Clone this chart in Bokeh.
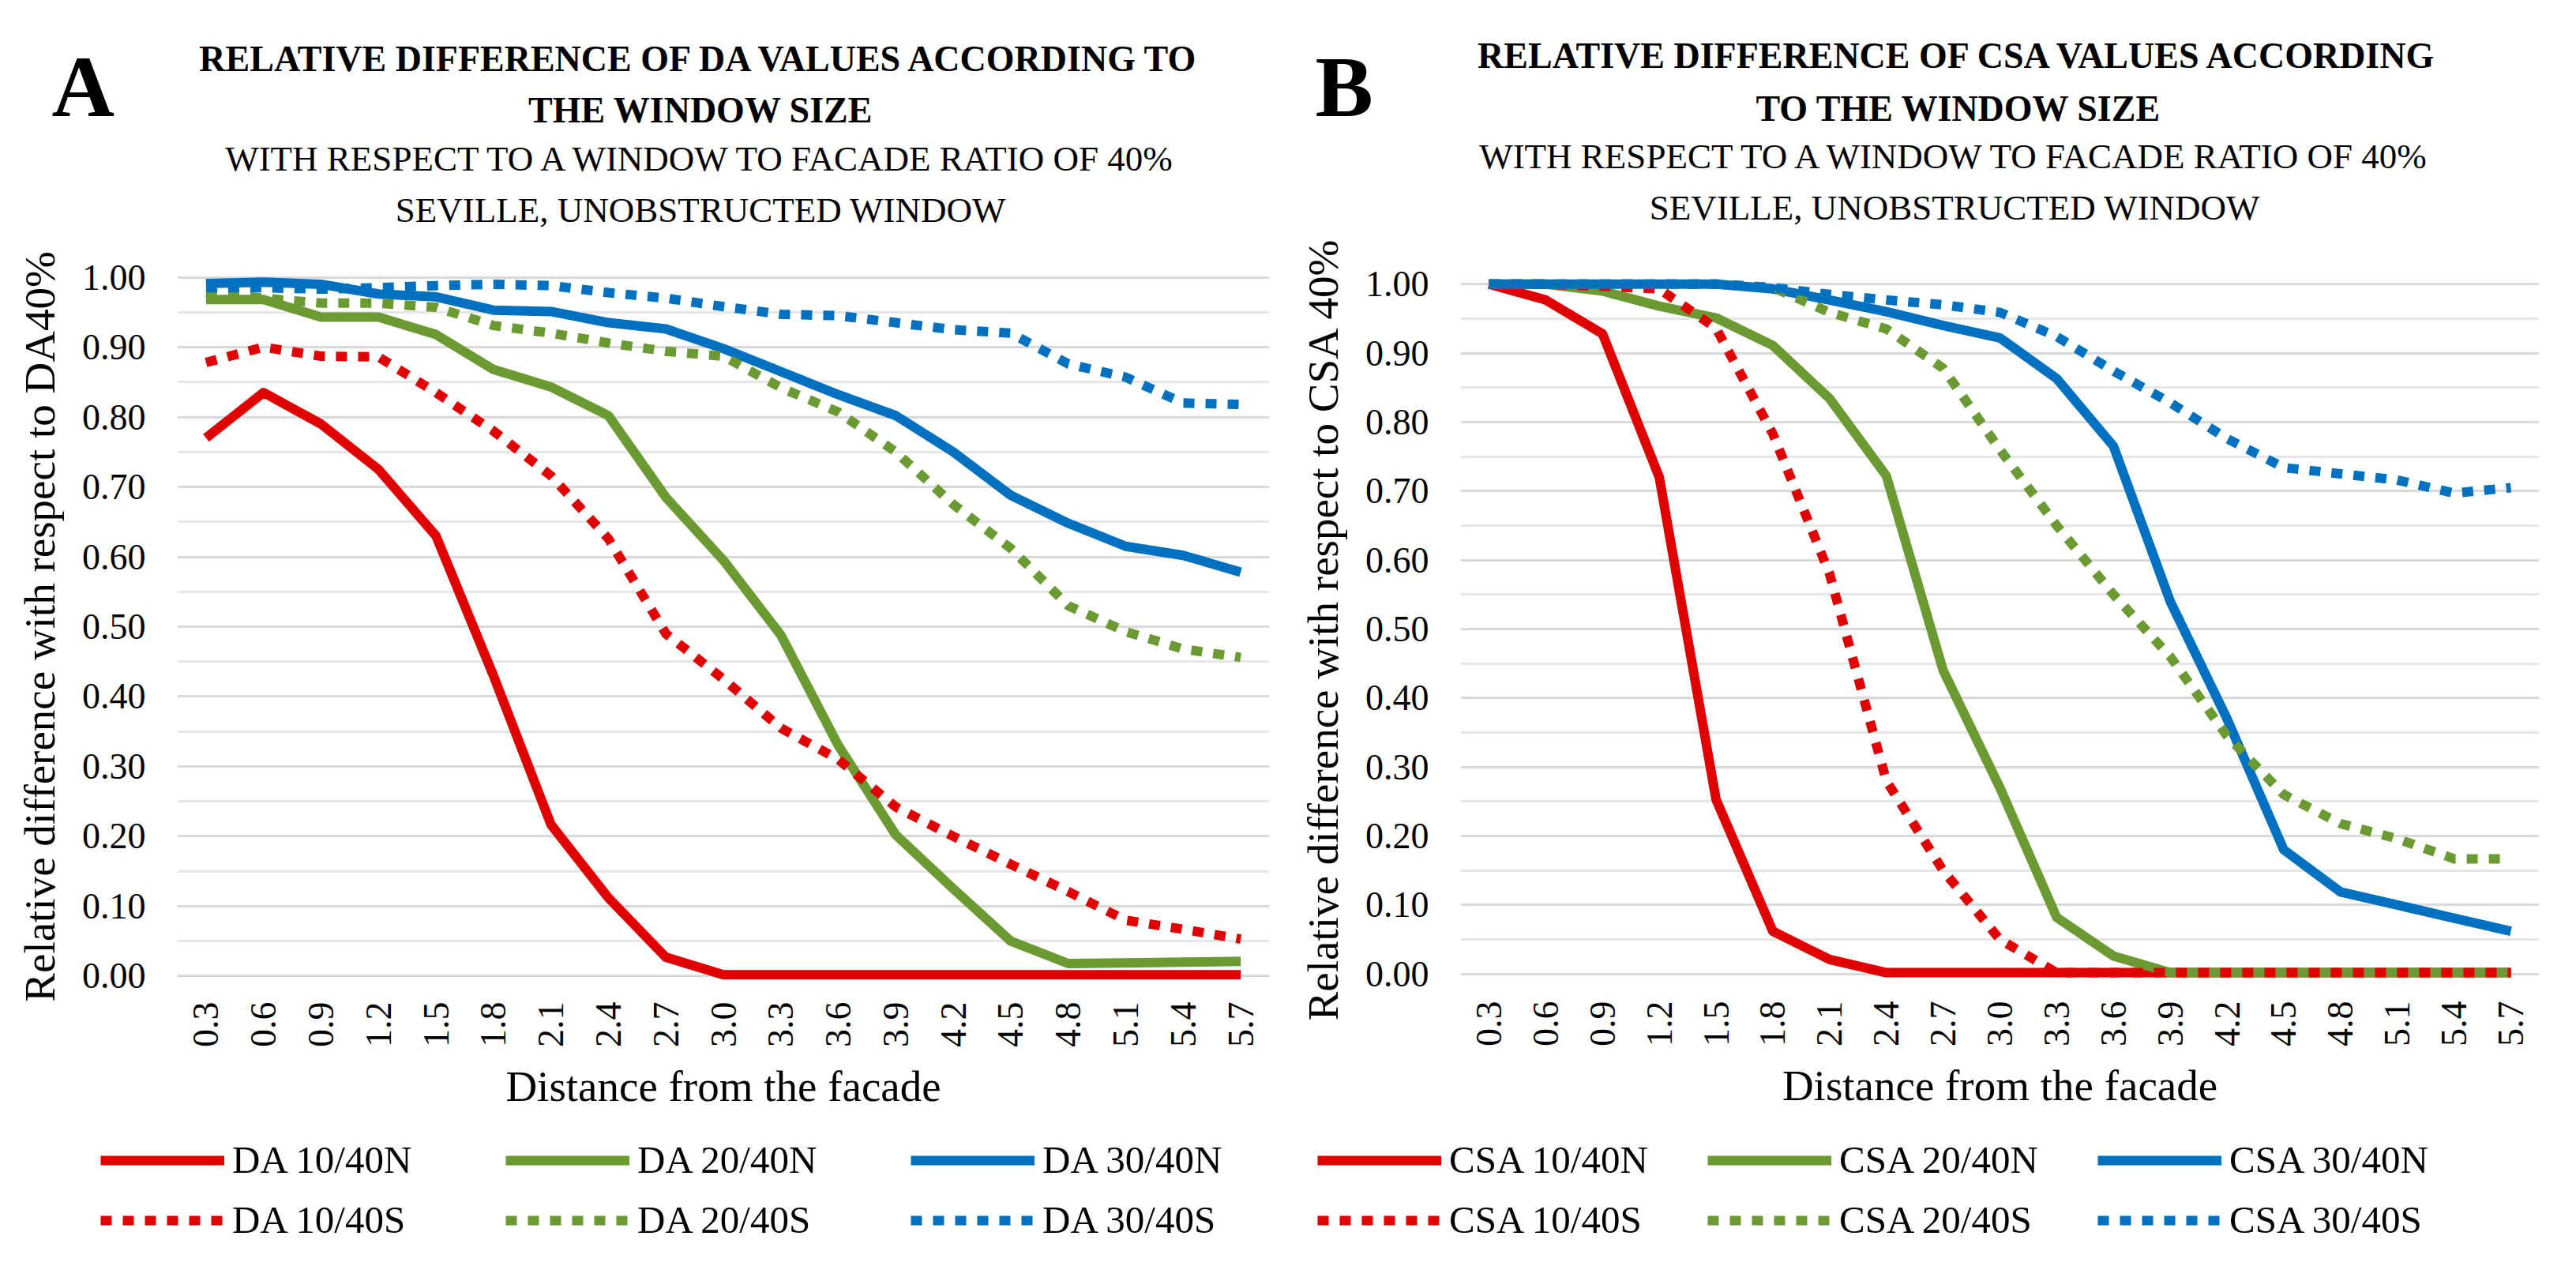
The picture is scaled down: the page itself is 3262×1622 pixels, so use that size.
import math
from bokeh.plotting import figure
from bokeh.models import (Range1d, FactorRange, FixedTicker, NumeralTickFormatter,
                          Label, Legend, LegendItem)
from bokeh.layouts import row, column
from bokeh.embed import file_html
from bokeh.resources import INLINE

# ---------------- data ----------------
distances = ["0.3", "0.6", "0.9", "1.2", "1.5", "1.8", "2.1", "2.4", "2.7", "3.0",
             "3.3", "3.6", "3.9", "4.2", "4.5", "4.8", "5.1", "5.4", "5.7"]

da_10_40N = [0.77, 0.835, 0.79, 0.725, 0.63, 0.43, 0.217, 0.112, 0.027, 0.002,
             0.002, 0.002, 0.002, 0.002, 0.002, 0.002, 0.002, 0.002, 0.002]
da_20_40N = [0.968, 0.968, 0.943, 0.943, 0.918, 0.868, 0.843, 0.802, 0.685, 0.595,
             0.488, 0.33, 0.202, 0.125, 0.05, 0.018, 0.019, 0.02, 0.021]
da_30_40N = [0.991, 0.993, 0.99, 0.976, 0.972, 0.953, 0.951, 0.935, 0.926, 0.898,
             0.865, 0.832, 0.802, 0.75, 0.688, 0.648, 0.615, 0.602, 0.578]
da_10_40S = [0.878, 0.9, 0.887, 0.886, 0.835, 0.78, 0.716, 0.626, 0.49, 0.425,
             0.355, 0.31, 0.242, 0.2, 0.16, 0.121, 0.08, 0.067, 0.053]
da_20_40S = [0.978, 0.97, 0.963, 0.963, 0.957, 0.931, 0.92, 0.906, 0.894, 0.887,
             0.842, 0.807, 0.75, 0.675, 0.612, 0.53, 0.493, 0.468, 0.456]
da_30_40S = [0.985, 0.985, 0.983, 0.985, 0.988, 0.99, 0.988, 0.978, 0.97, 0.958,
             0.947, 0.945, 0.935, 0.925, 0.92, 0.876, 0.857, 0.82, 0.818]

csa_10_40N = [1.0, 0.977, 0.928, 0.72, 0.253, 0.062, 0.021, 0.002, 0.002, 0.002,
              0.002, 0.002, 0.002, 0.002, 0.002, 0.002, 0.002, 0.002, 0.002]
csa_20_40N = [1.0, 1.0, 0.99, 0.968, 0.951, 0.911, 0.834, 0.722, 0.44, 0.27,
              0.082, 0.026, 0.002, 0.002, 0.002, 0.002, 0.002, 0.002, 0.002]
csa_30_40N = [1.0, 1.0, 1.0, 1.0, 1.0, 0.993, 0.977, 0.96, 0.94, 0.922,
              0.863, 0.765, 0.54, 0.37, 0.18, 0.119, 0.1, 0.081, 0.062]
csa_10_40S = [1.0, 1.0, 0.997, 0.993, 0.936, 0.783, 0.58, 0.28, 0.15, 0.05,
              0.002, 0.002, 0.002, 0.002, 0.002, 0.002, 0.002, 0.002, 0.002]
csa_20_40S = [1.0, 1.0, 1.0, 1.0, 1.0, 0.995, 0.959, 0.935, 0.878, 0.76,
              0.65, 0.55, 0.46, 0.345, 0.26, 0.218, 0.196, 0.167, 0.167]
csa_30_40S = [1.0, 1.0, 1.0, 1.0, 1.0, 0.995, 0.985, 0.977, 0.97, 0.959,
              0.924, 0.874, 0.828, 0.776, 0.734, 0.725, 0.716, 0.697, 0.705]

y_ticks = [0.0, 0.1, 0.2, 0.3, 0.4, 0.5, 0.6, 0.7, 0.8, 0.9, 1.0]
y_minor = [0.05, 0.15, 0.25, 0.35, 0.45, 0.55, 0.65, 0.75, 0.85, 0.95]

RED = "#E00000"
GREEN = "#6B9A33"
BLUE = "#0070C0"
FONT = "Liberation Serif"
DOT = "14 14"

W = 1623
SPLIT_TOP = 300      # page y where chart figure starts
SPLIT_BOT = 1440     # page y where legend figure starts
PAGE_BOTTOM = 1614
H_TITLE = SPLIT_TOP - 8
H_CHART = SPLIT_BOT - SPLIT_TOP
H_LEG = PAGE_BOTTOM - SPLIT_BOT


def blank_fig(h, x_range=None, y_range=None):
    f = figure(width=W, height=h,
               x_range=x_range if x_range is not None else Range1d(0, W),
               y_range=y_range if y_range is not None else Range1d(0, h),
               output_backend="svg", toolbar_location=None,
               x_axis_location=None, y_axis_location=None,
               min_border=0, min_border_left=0, min_border_right=0,
               min_border_top=0, min_border_bottom=0, frame_align=False)
    f.grid.visible = False
    f.outline_line_color = None
    f.background_fill_color = "white"
    f.border_fill_color = "white"
    return f


def make_panel(cfg):
    fl, fr, ft, fb = cfg["frame"]          # value box 1.0 .. 0.0 in page px
    x0 = cfg["page_x0"]
    ppu = fb - ft
    pad = 0.03

    # ---------- title figure ----------
    tf = blank_fig(H_TITLE)
    tf.add_layout(Label(x=cfg["letter_x"] - x0, y=SPLIT_TOP - 117, text=cfg["letter"],
                        text_font=FONT, text_font_size="110px", text_font_style="bold",
                        text_align="left", text_baseline="alphabetic", text_color="black"))
    for text, cx, base, size, style in cfg["titles"]:
        tf.add_layout(Label(x=cx - x0, y=SPLIT_TOP - base, text=text, text_font=FONT,
                            text_font_size=size, text_font_style=style, text_align="center",
                            text_baseline="alphabetic", text_color="black"))

    # ---------- chart figure ----------
    top_fig = (ft - SPLIT_TOP) - pad * ppu
    bot_fig = (fb - SPLIT_TOP) + pad * ppu
    mbt = int(round(top_fig))
    frame_h = int(round(bot_fig - top_fig))
    mbb = H_CHART - mbt - frame_h
    mbl = int(fl - x0)
    mbr = W - int(fr - x0)

    p = figure(width=W, height=H_CHART, x_range=FactorRange(*distances),
               y_range=Range1d(-pad, 1 + pad), output_backend="svg",
               toolbar_location=None, min_border_left=mbl, min_border_right=mbr,
               min_border_top=mbt, min_border_bottom=mbb, frame_align=False)
    p.outline_line_color = None
    p.background_fill_color = "white"
    p.border_fill_color = "white"
    p.x_range.range_padding = 0

    p.yaxis.ticker = FixedTicker(ticks=y_ticks, minor_ticks=y_minor)
    p.yaxis.formatter = NumeralTickFormatter(format="0.00")
    for ax in (p.xaxis[0], p.yaxis[0]):
        ax.axis_line_color = None
        ax.major_tick_line_color = None
        ax.minor_tick_line_color = None
        ax.major_tick_out = 0
        ax.major_tick_in = 0
        ax.minor_tick_out = 0
        ax.major_label_text_font = FONT
        ax.major_label_text_font_size = "46px"
        ax.major_label_text_color = "black"
        ax.axis_label_text_font = FONT
        ax.axis_label_text_font_style = "normal"
        ax.axis_label_text_color = "black"
        ax.axis_label_text_font_size = "55px"
    p.yaxis.major_label_standoff = 40
    p.yaxis.axis_label_standoff = 20
    p.yaxis.axis_label = cfg["ylabel"]
    p.xaxis.axis_label = "Distance from the facade"
    p.xaxis.major_label_orientation = math.pi / 2
    p.xaxis.major_label_standoff = cfg["xstand"]
    p.xaxis.axis_label_standoff = 16

    p.xgrid.grid_line_color = None
    p.ygrid.grid_line_color = "#D9D9D9"
    p.ygrid.grid_line_width = 3
    p.ygrid.minor_grid_line_color = "#E6E6E6"
    p.ygrid.minor_grid_line_width = 3

    for vals, color, dash in cfg["series"]:
        p.line(distances, vals, line_color=color, line_width=12, line_dash=dash,
               line_join="round" if dash == "solid" else "miter", line_cap="butt")

    # ---------- legend figure (lines lie outside its visible range) ----------
    lf = blank_fig(H_LEG, x_range=FactorRange(*distances), y_range=Range1d(10, 11))
    rs = []
    for vals, color, dash in cfg["series"]:
        rs.append(lf.line(distances, vals, line_color=color, line_width=12, line_dash=dash,
                          line_cap="butt"))
    items = [LegendItem(label=lab, renderers=[r]) for lab, r in zip(cfg["labels"], rs)]
    leg = Legend(items=items, orientation="horizontal", ncols=3,
                 location=(cfg["leg_x"] - x0, PAGE_BOTTOM - 1581))
    leg.label_text_font = FONT
    leg.label_text_font_size = "49px"
    leg.label_text_color = "black"
    leg.glyph_width = 157
    leg.glyph_height = 56
    leg.label_height = 56
    leg.label_width = cfg["leg_lw"]
    leg.label_standoff = 10
    leg.spacing = 19
    leg.padding = 0
    leg.margin = 0
    leg.border_line_color = None
    leg.background_fill_alpha = 0
    lf.add_layout(leg)

    return column(tf, p, lf, spacing=0)


cfgA = dict(
    frame=(232, 1615, 359, 1244), page_x0=8, xstand=6,
    ylabel="Relative difference with respect to DA40%",
    series=[(da_10_40N, RED, "solid"), (da_20_40N, GREEN, "solid"), (da_30_40N, BLUE, "solid"),
            (da_10_40S, RED, DOT), (da_20_40S, GREEN, DOT), (da_30_40S, BLUE, DOT)],
    labels=["DA 10/40N", "DA 20/40N", "DA 30/40N", "DA 10/40S", "DA 20/40S", "DA 30/40S"],
    letter="A", letter_x=73,
    titles=[("RELATIVE DIFFERENCE OF DA VALUES ACCORDING TO", 895, 82, "46px", "bold"),
            ("THE WINDOW SIZE", 895, 147, "46px", "bold"),
            ("WITH RESPECT TO A WINDOW TO FACADE RATIO OF 40%", 897, 208, "45px", "normal"),
            ("SEVILLE, UNOBSTRUCTED WINDOW", 895, 273, "45px", "normal")],
    leg_x=135, leg_lw=327,
)
cfgB = dict(
    frame=(1857, 3223, 367, 1241), page_x0=1631, xstand=8,
    ylabel="Relative difference with respect to CSA 40%",
    series=[(csa_10_40N, RED, "solid"), (csa_20_40N, GREEN, "solid"), (csa_30_40N, BLUE, "solid"),
            (csa_10_40S, RED, DOT), (csa_20_40S, GREEN, DOT), (csa_30_40S, BLUE, DOT)],
    labels=["CSA 10/40N", "CSA 20/40N", "CSA 30/40N", "CSA 10/40S", "CSA 20/40S", "CSA 30/40S"],
    letter="B", letter_x=1673,
    titles=[("RELATIVE DIFFERENCE OF CSA VALUES ACCORDING", 2488, 78, "46px", "bold"),
            ("TO THE WINDOW SIZE", 2488, 145, "46px", "bold"),
            ("WITH RESPECT TO A WINDOW TO FACADE RATIO OF 40%", 2485, 205, "45px", "normal"),
            ("SEVILLE, UNOBSTRUCTED WINDOW", 2483, 270, "45px", "normal")],
    leg_x=1676, leg_lw=308,
)

layout = row(make_panel(cfgA), make_panel(cfgB), spacing=0)

open("out.html", "w").write(file_html(layout, INLINE))
